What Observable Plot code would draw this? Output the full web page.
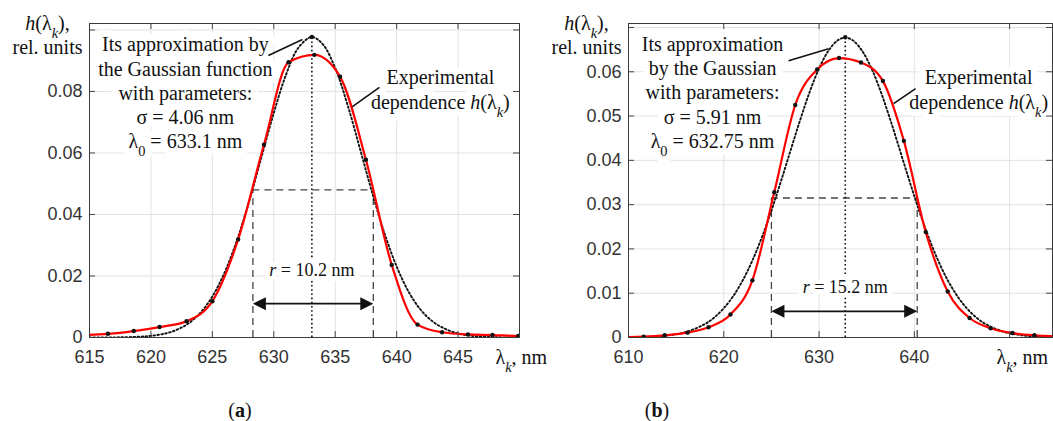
<!DOCTYPE html>
<html><head><meta charset="utf-8">
<script src="https://cdn.jsdelivr.net/npm/d3@7"></script>
<script src="https://cdn.jsdelivr.net/npm/@observablehq/plot@0.6"></script>
<style>
body{margin:0;background:#fff;}
#wrap{position:relative;width:1053px;height:421px;overflow:hidden;font-family:"Liberation Serif","Times New Roman",serif;}
.panel{position:absolute;top:0;}
.cap{position:absolute;top:398px;font-size:20px;line-height:24px;width:60px;text-align:center;color:#111;}
</style></head><body>
<div id="wrap">
 <div id="pa" class="panel" style="left:0"></div>
 <div id="pb" class="panel" style="left:540px"></div>
 <div class="cap" style="left:210px">(<b>a</b>)</div>
 <div class="cap" style="left:627px">(<b>b</b>)</div>
</div>
<script>
// ---------- Panel (a) data ----------
const expA_x = [614.4, 616.5, 618.6, 620.7, 622.9, 625.0, 627.1, 629.2, 631.2, 633.3, 635.4, 637.5, 639.6, 641.7, 643.7, 645.8, 647.8, 649.9, 652.0];
const expA_y = [0.0008, 0.0012, 0.0021, 0.0034, 0.0053, 0.0118, 0.0319, 0.0627, 0.0895, 0.0919, 0.0848, 0.0578, 0.0236, 0.0042, 0.0017, 0.0010, 0.0008, 0.0005, 0.0004];
const gaussA_x = [615, 617, 619, 620, 621, 622, 623, 624, 625, 626, 627, 628, 629, 630, 631, 632, 633.1, 634, 635, 636, 637, 638, 639, 640, 641, 642, 643, 644, 645, 646, 648, 650];
const gaussA_y = [0.0000, 0.00004, 0.00024, 0.00054, 0.00115, 0.00233, 0.00443, 0.00793, 0.01335, 0.02118, 0.0316, 0.0444, 0.0587, 0.0730, 0.0855, 0.0942, 0.0977, 0.0953, 0.0876, 0.0757, 0.0616, 0.0472, 0.0340, 0.0231, 0.0147, 0.0088, 0.0050, 0.0027, 0.0013, 0.0006, 0.0001, 0.0000];
const xTicksA = [615, 620, 625, 630, 635, 640, 645, 650];
const xTickLabelsA = ["615", "620", "625", "630", "635", "640", "645", ""];
const yTicksA = [0, 0.02, 0.04, 0.06, 0.08, 0.1];
const yTickLabelsA = ["0", "0.02", "0.04", "0.06", "0.08", ""];
const lambda0A = 633.1, peakA = 0.0977, halfA = 0.048, fwhmA = [628.3, 638.1], arrowYA = 0.011;
const gaussTextA = "Its approximation by\nthe Gaussian function\nwith parameters:\nσ = 4.06 nm\nλ_{0} = 633.1 nm";
const rTextA = "*r* = 10.2 nm";

// ---------- Panel (b) data ----------
const expB_x = [609.3, 611.6, 613.8, 616.2, 618.4, 620.7, 623.0, 625.3, 627.5, 629.8, 632.1, 634.4, 636.7, 638.9, 641.2, 643.5, 645.8, 648.0, 650.3, 652.6, 654.9];
const expB_y = [0.0001, 0.0002, 0.0005, 0.0011, 0.0023, 0.0052, 0.0129, 0.0328, 0.0525, 0.0605, 0.0631, 0.0621, 0.0579, 0.0444, 0.0238, 0.0104, 0.0044, 0.0021, 0.0010, 0.0005, 0.0003];
const gaussB_x = [610, 612, 614, 616, 618, 619, 620, 621, 622, 623, 624, 625, 626, 627, 628, 629, 630, 631, 632, 632.75, 633.5, 634.5, 635.5, 636.5, 637.5, 638.5, 639.5, 640.5, 641.5, 642.5, 643.5, 644.5, 645.5, 646.5, 647.5, 649.5, 651.5, 653.5, 655];
const gaussB_y = [0.00004, 0.00014, 0.00044, 0.00122, 0.00301, 0.00452, 0.00661, 0.00938, 0.01295, 0.01737, 0.02263, 0.02865, 0.03526, 0.04217, 0.04901, 0.05536, 0.06075, 0.06480, 0.06716, 0.0677, 0.06716, 0.06480, 0.06075, 0.05536, 0.04901, 0.04217, 0.03526, 0.02865, 0.02263, 0.01737, 0.01295, 0.00938, 0.00661, 0.00452, 0.00301, 0.00122, 0.00044, 0.00014, 0.00004];
const xTicksB = [610, 620, 630, 640, 650];
const xTickLabelsB = ["610", "620", "630", "640", ""];
const yTicksB = [0, 0.01, 0.02, 0.03, 0.04, 0.05, 0.06, 0.07];
const yTickLabelsB = ["0", "0.01", "0.02", "0.03", "0.04", "0.05", "0.06", ""];
const lambda0B = 632.75, peakB = 0.0678, halfB = 0.0315, fwhmB = [625.0, 640.3], arrowYB = 0.0059;
const gaussTextB = "Its approximation\nby the Gaussian\nwith parameters:\nσ = 5.91 nm\nλ_{0} = 632.75 nm";
const rTextB = "*r* = 15.2 nm";

const expText = "Experimental\ndependence *h*(λ~{k})";
const yLabelText = "*h*(λ~{k}),\nrel. units";
const xLabelText = "λ~{k}, nm";

// ---------- helpers ----------
const SERIF = "Liberation Serif";
const SANS = "Liberation Sans";
const arrowRight = {draw(c){ c.moveTo(0,0); c.lineTo(-13,-6.5); c.lineTo(-13,6.5); c.closePath(); }};
const arrowLeft = {draw(c){ c.moveTo(0,0); c.lineTo(13,-6.5); c.lineTo(13,6.5); c.closePath(); }};

function richify(root){
  const NS = "http://www.w3.org/2000/svg";
  root.querySelectorAll("text, tspan").forEach(el => {
    if (el.children.length) return;
    const s = el.textContent;
    if (!/[*_~]/.test(s)) return;
    el.textContent = "";
    for (const p of s.split(/(\*[^*]+\*|_\{[^}]+\}|~\{[^}]+\})/)) {
      if (!p) continue;
      const t = document.createElementNS(NS, "tspan");
      if (p[0] === "*") { t.textContent = p.slice(1,-1); t.setAttribute("font-style","italic"); }
      else if (p[0] === "_" || p[0] === "~") {
        t.textContent = p.slice(2,-1);
        t.setAttribute("baseline-shift","sub");
        t.setAttribute("font-size","72%");
        if (p[0] === "~") t.setAttribute("font-style","italic");
      } else t.textContent = p;
      el.appendChild(t);
    }
  });
}

function labelText(data, opts, haloWidth){
  // white halo drawn first (separate mark), then the text itself on top
  return [
    Plot.text(data, {...opts, fill: "white", stroke: "white", strokeWidth: haloWidth, strokeLinejoin: "round"}),
    Plot.text(data, {...opts, fill: "#111"})
  ];
}

function panel(c){
  const H = 375, mt = 23, mb = 38;
  const plotH = H - mt - mb, plotW = c.width - c.ml - c.mr;
  const exp = c.expX.map((x,i)=>({x, y: c.expY[i]}));
  const gau = c.gX.map((x,i)=>({x, y: c.gY[i]}));
  const xl = new Map(c.xTicks.map((d,i)=>[d, c.xTickLabels[i]]));
  const yl = new Map(c.yTicks.map((d,i)=>[d, c.yTickLabels[i]]));
  const base = {fontFamily: SERIF, fontSize: 20, text: d=>d};
  const dash = {stroke: "#444", strokeWidth: 1.3, strokeDasharray: "7,5"};
  const svg = Plot.plot({
    width: c.width, height: H, marginLeft: c.ml, marginRight: c.mr, marginTop: mt, marginBottom: mb,
    x: {domain: c.xDomain}, y: {domain: c.yDomain},
    style: {background: "transparent", overflow: "visible"},
    marks: [
      Plot.gridX(c.xTicks, {stroke: "#e2e2e2", strokeOpacity: 1}),
      Plot.gridY(c.yTicks, {stroke: "#e2e2e2", strokeOpacity: 1}),
      ...labelText([c.gText], {...base, x: c.gPos[0], y: c.gPos[1], lineHeight: 1.2125, lineAnchor: "middle"}, 14),
      ...labelText([expText], {...base, x: c.ePos[0], y: c.ePos[1], lineHeight: 1.25, lineAnchor: "middle"}, 14),
      Plot.ruleX(c.fwhm, {x: d=>d, y1: 0, y2: c.half, ...dash}),
      Plot.ruleY([c.half], {y: d=>d, x1: c.fwhm[0], x2: c.fwhm[1], ...dash}),
      Plot.ruleX([c.lambda0], {x: d=>d, y1: 0, y2: c.peak, stroke: "#111", strokeWidth: 1.6, strokeDasharray: "1.6,2.6"}),
      ...labelText([c.rText], {...base, x: c.lambda0, y: c.rY, fontSize: 18}, 10),
      Plot.ruleY([c.arrowY], {y: d=>d, x1: c.fwhm[0] + 0.3, x2: c.fwhm[1] - 0.3, stroke: "#111", strokeWidth: 1.7}),
      Plot.dot([c.fwhm[0]], {x: d=>d, y: c.arrowY, symbol: arrowLeft, fill: "#111", stroke: "none"}),
      Plot.dot([c.fwhm[1]], {x: d=>d, y: c.arrowY, symbol: arrowRight, fill: "#111", stroke: "none"}),
      Plot.line(gau, {x: "x", y: "y", curve: "catmull-rom", stroke: "#111", strokeWidth: 1.9, strokeDasharray: "1.6,2.4", clip: true}),
      Plot.line(exp, {x: "x", y: "y", curve: "monotone-x", stroke: "#ff0000", strokeWidth: 2.2, clip: true}),
      Plot.dot(exp, {x: "x", y: "y", r: 2.2, fill: "#111", stroke: "none", clip: true}),
      Plot.dot([c.peak], {x: c.lambda0, y: d=>d, r: 2.2, fill: "#111", stroke: "none"}),
      Plot.link([0], {x1: c.gLeader[0], y1: c.gLeader[1], x2: c.gLeader[2], y2: c.gLeader[3], stroke: "#111", strokeWidth: 1.6}),
      Plot.link([0], {x1: c.eLeader[0], y1: c.eLeader[1], x2: c.eLeader[2], y2: c.eLeader[3], stroke: "#111", strokeWidth: 1.6}),
      Plot.tickX(c.xTicks, {x: d=>d, insetTop: plotH - 6, stroke: "#444"}),
      Plot.tickX(c.xTicks, {x: d=>d, insetBottom: plotH - 6, stroke: "#444"}),
      Plot.tickY(c.yTicks, {y: d=>d, insetRight: plotW - 6, stroke: "#444"}),
      Plot.tickY(c.yTicks, {y: d=>d, insetLeft: plotW - 6, stroke: "#444"}),
      Plot.axisX(c.xTicks, {tickSize: 0, tickPadding: 13, tickFormat: d=>xl.get(d), fontSize: 18, fontFamily: SANS, fill: "#333", label: null}),
      Plot.axisY(c.yTicks, {tickSize: 0, tickPadding: 7, tickFormat: d=>yl.get(d), fontSize: 18, fontFamily: SANS, fill: "#333", label: null}),
      Plot.frame({stroke: "#3a3a3a"}),
      Plot.text([yLabelText], {...base, frameAnchor: "top-left", dx: -42, dy: 11, lineAnchor: "middle", textAnchor: "middle", lineHeight: 1.2, fill: "#111"}),
      Plot.text([xLabelText], {...base, frameAnchor: "bottom-right", dx: c.xLabelDx, dy: 20, lineAnchor: "middle", textAnchor: "start", fill: "#111"})
    ]
  });
  richify(svg);
  return svg;
}

document.getElementById("pa").appendChild(panel({
  width: 540, ml: 89, mr: 21, xDomain: [615, 650], yDomain: [0, 0.1021],
  expX: expA_x, expY: expA_y, gX: gaussA_x, gY: gaussA_y,
  xTicks: xTicksA, xTickLabels: xTickLabelsA, yTicks: yTicksA, yTickLabels: yTickLabelsA,
  lambda0: lambda0A, peak: peakA, half: halfA, fwhm: fwhmA, arrowY: arrowYA,
  gText: gaussTextA, gPos: [622.8, 0.0798], ePos: [643.56, 0.0811],
  rText: rTextA, rY: 0.0218,
  gLeader: [629.56, 0.0917, 632.33, 0.0969], eLeader: [638.6, 0.0813, 636.4, 0.0751],
  xLabelDx: -24
}));
document.getElementById("pb").appendChild(panel({
  width: 513, ml: 88, mr: 1, xDomain: [610, 654.5], yDomain: [0, 0.0709],
  expX: expB_x, expY: expB_y, gX: gaussB_x, gY: gaussB_y,
  xTicks: xTicksB, xTickLabels: xTickLabelsB, yTicks: yTicksB, yTickLabels: yTickLabelsB,
  lambda0: lambda0B, peak: peakB, half: halfB, fwhm: fwhmB, arrowY: arrowYB,
  gText: gaussTextB, gPos: [618.82, 0.0555], ePos: [646.75, 0.0563],
  rText: rTextB, rY: 0.0113,
  gLeader: [626.8, 0.0625, 631.0, 0.0652], eLeader: [640.13, 0.0562, 637.82, 0.0528],
  xLabelDx: -56
}));
</script>
</body></html>
